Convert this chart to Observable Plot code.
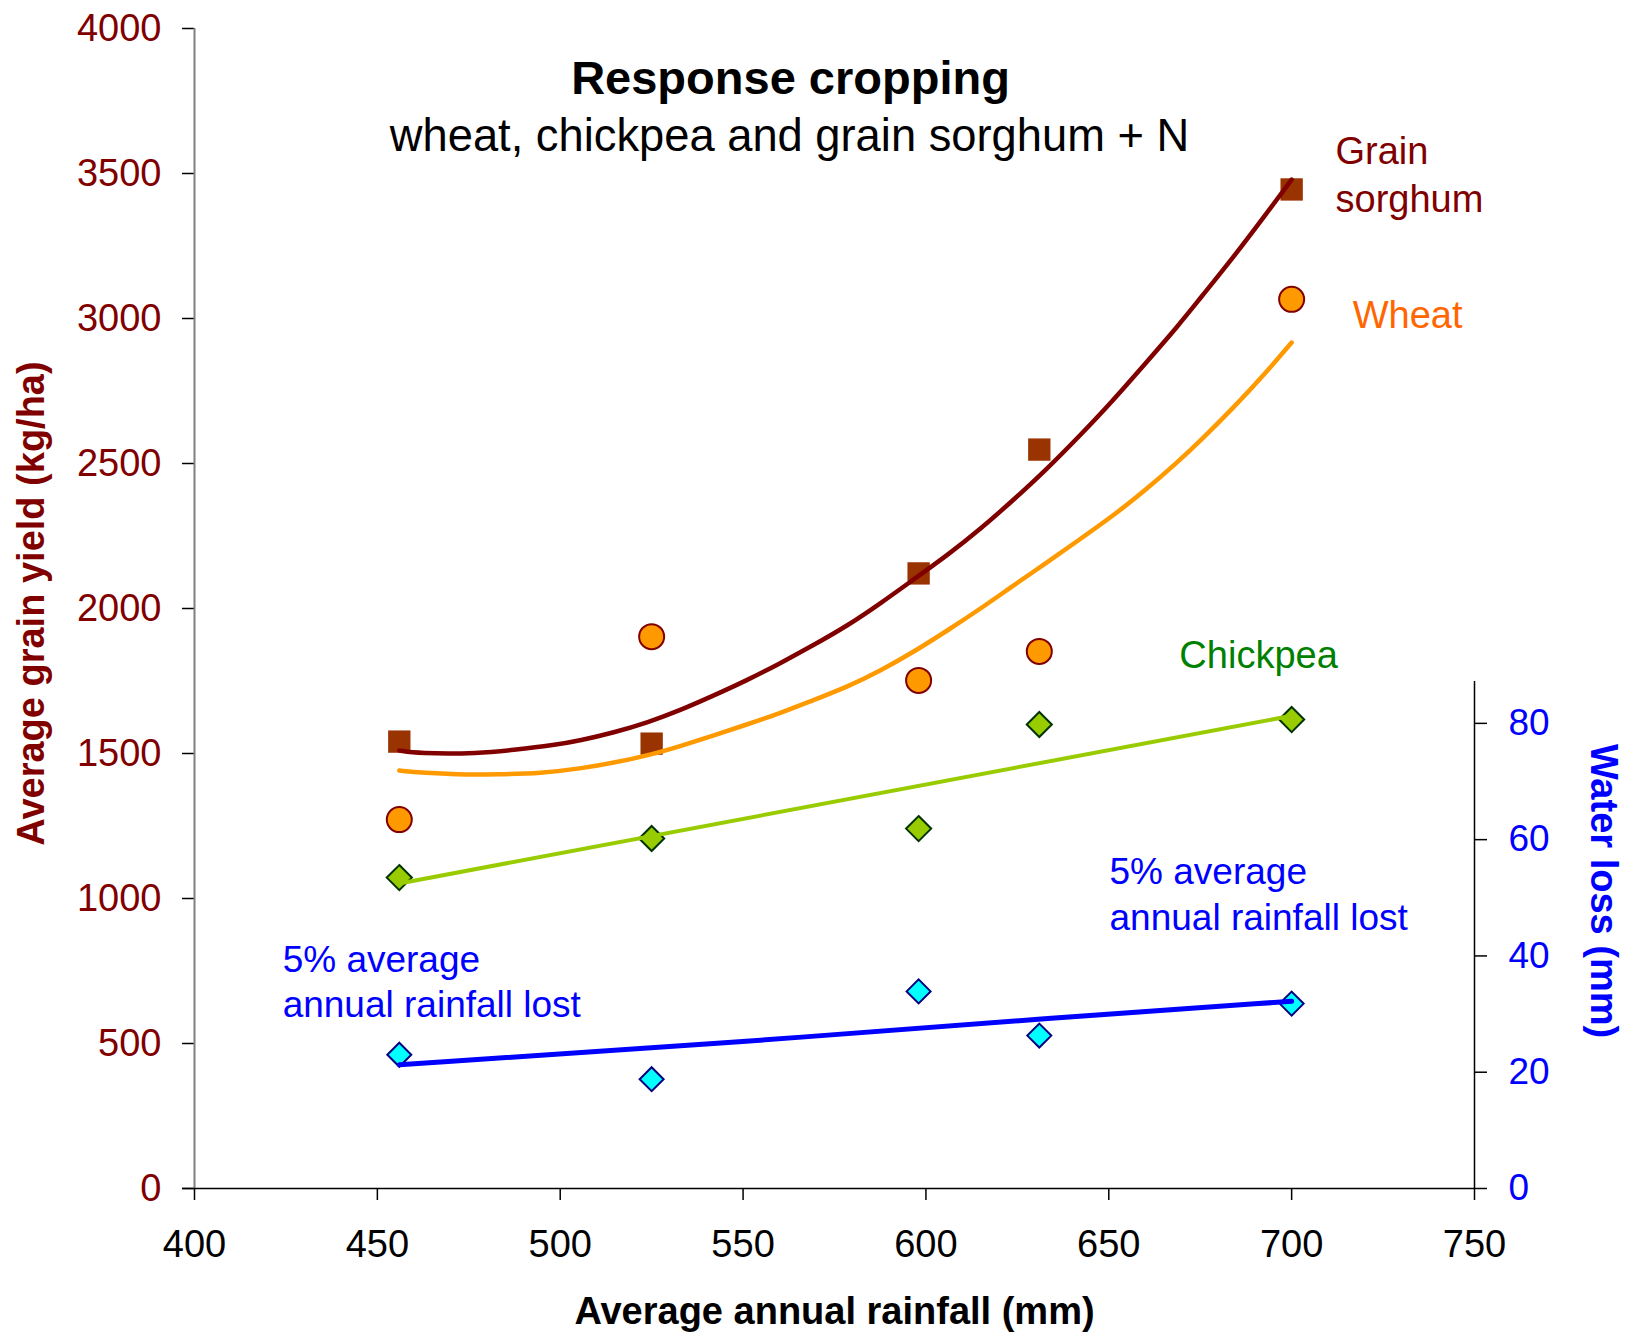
<!DOCTYPE html>
<html>
<head>
<meta charset="utf-8">
<script src="https://cdn.jsdelivr.net/npm/d3@7"></script>
<script src="https://cdn.jsdelivr.net/npm/@observablehq/plot@0.6"></script>
<style>
html, body { margin: 0; padding: 0; background: #fff; }
#chart { position: relative; width: 1625px; height: 1333px; font-family: "Liberation Sans", Arial, sans-serif; }
#chart svg { position: absolute; left: 0; top: 0; }
</style>
</head>
<body>
<div id="chart"></div>
<script>
// ---- data ----
const rainfall      = [456, 525, 598, 631, 700];          // Average annual rainfall (mm)
const sorghumYield  = [1541, 1534, 2121, 2548, 3445];     // kg/ha
const wheatYield    = [1272, 1903, 1752, 1852, 3066];     // kg/ha
const chickpeaYield = [1072, 1207, 1241, 1600, 1617];     // kg/ha
const waterLoss     = [23.0, 18.8, 33.9, 26.3, 31.8];     // mm

// trend lines: [rainfall, value]
const sorghumTrend = [[456,1510],[461,1500],[478,1500],[487,1512],[498,1528],[505.5,1545],[514.6,1572],[524,1607],[533,1650],[542,1700],[551,1752],[560,1810],[569,1872],[578.6,1941],[587.6,2018],[596.6,2100],[606,2185],[615,2275],[624,2375],[633,2480],[642,2595],[651,2715],[660,2845],[669,2975],[675,3070],[684,3210],[693,3360],[700,3479]];
const wheatTrend = [[456,1441],[462,1434],[475.5,1426],[482,1428],[495,1432],[505.5,1448],[514.6,1468],[524,1493],[533,1526],[542,1562],[551,1600],[560,1638],[569,1683],[578.6,1730],[587.6,1786],[596.6,1850],[606,1925],[615,2000],[624,2080],[633,2158],[642,2238],[651,2318],[660,2408],[669,2507],[675,2578],[684,2691],[693,2814],[700,2917]];
const chickpeaTrend = [[456,1052],[700,1630]];
const waterLossTrend = [[456,21.3],[542,24.8],[639.5,29.6],[700,32.2]];

const xTicks = [400, 450, 500, 550, 600, 650, 700, 750];
const yTicks = [0, 500, 1000, 1500, 2000, 2500, 3000, 3500, 4000];
const wlTicks = [0, 20, 40, 60, 80];

// ---- build tables ----
const crops = rainfall.map((r, i) => ({rain: r, sorghum: sorghumYield[i], wheat: wheatYield[i], chickpea: chickpeaYield[i], loss: waterLoss[i]}));

const font = '"Liberation Sans", Arial, sans-serif';
const W = 1625, H = 1333;
const mL = 194, mR = 151, mB = 145;
const plain = d => String(d);

const main = Plot.plot({
  width: W, height: H,
  marginTop: 28, marginBottom: mB, marginLeft: mL, marginRight: mR,
  x: {domain: [400, 750]},
  y: {domain: [0, 4000]},
  style: {fontFamily: font, fontSize: "38px", background: "white", overflow: "visible", color: "black"},
  marks: [
    Plot.axisX({ticks: xTicks, tickFormat: plain, tickSize: 12, tickPadding: 30, label: null, stroke: "black", fill: "black", strokeWidth: 1.5, fontSize: 38}),
    Plot.axisY({ticks: yTicks, tickFormat: plain, tickSize: 12, tickPadding: 21, label: null, stroke: "black", fill: "#800000", strokeWidth: 1.5, fontSize: 38}),
    Plot.ruleX([400], {stroke: "#808080", strokeWidth: 2}),
    Plot.ruleY([0], {stroke: "black", strokeWidth: 1.5, insetLeft: -12}),

    Plot.dot(crops, {x: "rain", y: "sorghum", symbol: "square", r: 12.6, fill: "#993300"}),
    Plot.dot(crops, {x: "rain", y: "wheat", symbol: "circle", r: 12.5, fill: "#FF9900", stroke: "#800000", strokeWidth: 2}),
    Plot.dot(crops, {x: "rain", y: "chickpea", symbol: "diamond2", r: 11.3, fill: "#99CC00", stroke: "#003300", strokeWidth: 2}),

    Plot.line(sorghumTrend, {stroke: "#800000", strokeWidth: 4.5, curve: "basis"}),
    Plot.line(wheatTrend, {stroke: "#FF9900", strokeWidth: 4.5, curve: "basis"}),
    Plot.line(chickpeaTrend, {stroke: "#99CC00", strokeWidth: 4}),

    Plot.text(["Response cropping"], {text: d => d, frameAnchor: "top", dx: -44, dy: 50, lineAnchor: "middle", fontWeight: "bold", fontSize: 47, fill: "black"}),
    Plot.text(["wheat, chickpea and grain sorghum + N"], {text: d => d, frameAnchor: "top", dx: -45, dy: 108, lineAnchor: "middle", fontSize: 45.3, fill: "black"}),

    Plot.text(["Grain\nsorghum"], {text: d => d, x: 712, y: 3503, textAnchor: "start", lineAnchor: "middle", lineHeight: 1.26, fontSize: 38, fill: "#800000"}),
    Plot.text(["Wheat"], {text: d => d, x: 716.7, y: 3010, textAnchor: "start", lineAnchor: "middle", fontSize: 38, fill: "#FF6600"}),
    Plot.text(["Chickpea"], {text: d => d, x: 669.3, y: 1838, textAnchor: "start", lineAnchor: "middle", fontSize: 38, fill: "#008000"}),

    Plot.text(["Average grain yield (kg/ha)"], {text: d => d, frameAnchor: "left", dx: -163, dy: -5, rotate: -90, textAnchor: "middle", lineAnchor: "middle", fontWeight: "bold", fontSize: 38, fill: "#800000"}),
    Plot.text(["Average annual rainfall (mm)"], {text: d => d, frameAnchor: "bottom", dy: 123, textAnchor: "middle", lineAnchor: "middle", fontWeight: "bold", fontSize: 38, fill: "black"})
  ]
});

const over = Plot.plot({
  width: W, height: H,
  marginTop: 681, marginBottom: mB, marginLeft: mL, marginRight: mR,
  x: {domain: [400, 750], axis: null},
  y: {domain: [0, 87.2]},
  style: {fontFamily: font, fontSize: "37px", background: "transparent", overflow: "visible", color: "black"},
  marks: [
    Plot.axisY({anchor: "right", ticks: wlTicks, tickFormat: plain, tickSize: 12, tickPadding: 22, label: null, stroke: "black", fill: "#0000FF", strokeWidth: 1.5, fontSize: 37}),
    Plot.ruleX([750], {stroke: "black", strokeWidth: 1.5}),

    Plot.dot(crops, {x: "rain", y: "loss", symbol: "diamond2", r: 10.8, fill: "#00FFFF", stroke: "#000080", strokeWidth: 2}),
    Plot.line(waterLossTrend, {stroke: "#0000FF", strokeWidth: 5, curve: "basis"}),

    Plot.text(["5% average\nannual rainfall lost"], {text: d => d, x: 424.1, y: 35.9, textAnchor: "start", lineAnchor: "middle", lineHeight: 1.22, fontSize: 37, fill: "#0000FF"}),
    Plot.text(["5% average\nannual rainfall lost"], {text: d => d, x: 650.2, y: 50.9, textAnchor: "start", lineAnchor: "middle", lineHeight: 1.22, fontSize: 37, fill: "#0000FF"}),

    Plot.text(["Water loss (mm)"], {text: d => d, frameAnchor: "right", dx: 129, dy: -44, rotate: 90, textAnchor: "middle", lineAnchor: "middle", fontWeight: "bold", fontSize: 38, fill: "#0000FF"})
  ]
});

const chart = document.getElementById("chart");
chart.appendChild(main);
chart.appendChild(over);
</script>
</body>
</html>
